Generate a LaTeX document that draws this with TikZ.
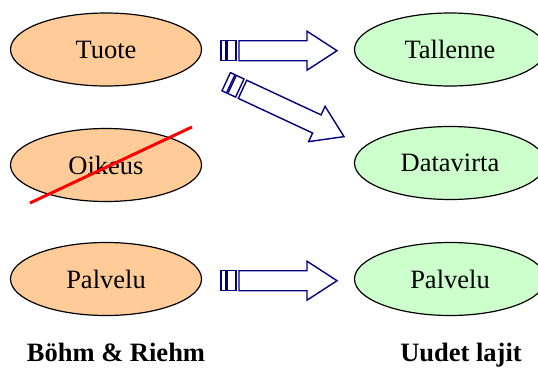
\documentclass[tikz,border=0pt]{standalone}
\usepackage{fontspec}
\setmainfont{Liberation Serif}
\usetikzlibrary{shapes.geometric}
\definecolor{peach}{HTML}{FFCC99}
\definecolor{mint}{HTML}{CCFFCC}
\definecolor{navyblue}{HTML}{000080}
\begin{document}
\begin{tikzpicture}[x=1pt,y=-1pt,
  oval/.style={ellipse,draw=black,line width=1.2pt,minimum width=191pt,minimum height=73pt,inner sep=0pt,font=\rmfamily\fontsize{26.5}{30}\selectfont},
  oldkind/.style={oval,fill=peach},
  newkind/.style={oval,fill=mint},
  blockarrow/.style={draw=navyblue,fill=white,line width=1.4pt,line join=miter},
  strike/.style={draw=red,line width=3pt},
  caption/.style={font=\rmfamily\bfseries\fontsize{26.5}{30}\selectfont,anchor=base},
  pics/fatarrow/.style={code={
    \draw[blockarrow] (0,-10) rectangle (5,10);
    \draw[blockarrow] (6.5,-10) rectangle (15,10);
    \draw[blockarrow] (18,-10) -- (#1,-10) -- (#1,-19.5) -- (#1+30,0) -- (#1,19.5) -- (#1,10) -- (18,10) -- cycle;
  }}]
\useasboundingbox (0,0) rectangle (538,367);
\begin{scope}
\clip (0,0) rectangle (538,367);
\node[oldkind] (tuote) at (106,49.5) {Tuote};
\node[oldkind] (oikeus) at (106,165) {Oikeus};
\node[oldkind] (palvelu1) at (106,279) {Palvelu};
\node[newkind] (tallenne) at (450,49.5) {Tallenne};
\node[newkind] (datavirta) at (450,163) {Datavirta};
\node[newkind] (palvelu2) at (450,279) {Palvelu};
\end{scope}
\coordinate (strikeA) at (30,203);
\coordinate (strikeB) at (192,127);
\draw[strike] (strikeA) -- (strikeB);
\coordinate (arrowTop) at (221,50.7);
\coordinate (arrowDiag) at (226.2,81.7);
\coordinate (arrowLow) at (221,280.7);
\pic at (arrowTop) {fatarrow=86};
\pic[rotate=-25] at (arrowDiag) {fatarrow=100};
\pic at (arrowLow) {fatarrow=86};
\node[caption] (bohm) at (116,361) {Böhm \& Riehm};
\node[caption] (uudet) at (461,361) {Uudet lajit};
\end{tikzpicture}
\end{document}
